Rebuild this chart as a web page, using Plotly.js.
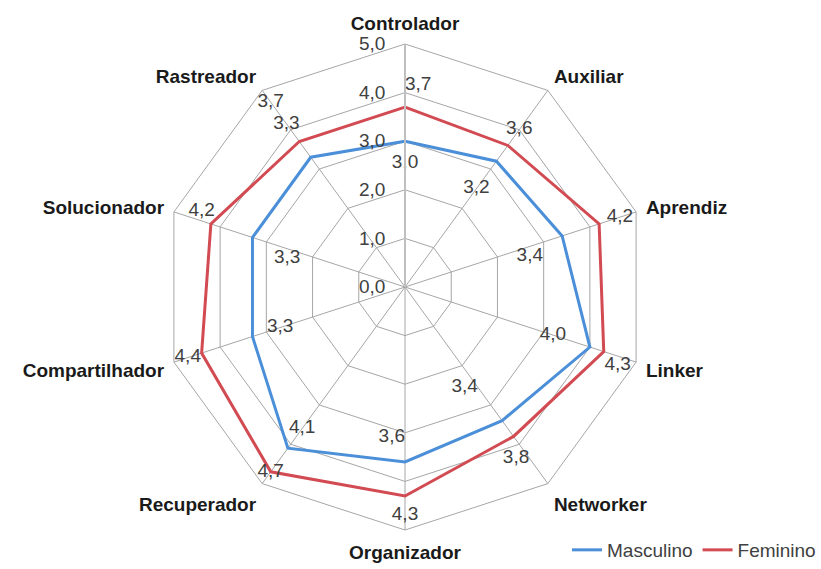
<!DOCTYPE html>
<html>
<head>
<meta charset="utf-8">
<script src="https://cdn.plot.ly/plotly-3.0.1.min.js"></script>
<style>html,body{margin:0;padding:0;background:#fff;}#chart{width:821px;height:569px;}</style>
</head>
<body>
<div id="chart"></div>
<script>
// Data
const categories = ["Controlador","Auxiliar","Aprendiz","Linker","Networker","Organizador","Recuperador","Compartilhador","Solucionador","Rastreador"];
const masculino = [3.0, 3.2, 3.4, 4.0, 3.4, 3.6, 4.1, 3.3, 3.3, 3.3];
const feminino  = [3.7, 3.6, 4.2, 4.3, 3.8, 4.3, 4.7, 4.4, 4.2, 3.7];
const seriesNames = ["Masculino", "Feminino"];
const radialTicks = [0, 1, 2, 3, 4, 5];

// Label placement (style only): radial offsets of data labels from their points
const offM = [-0.45, -0.7, -0.7, -0.8, -0.85, -0.5, -0.5, -0.6, -0.75, 0.85];
const offF = [0.45, 0.4, 0.45, 0.3, 0.55, 0.4, 0.0, 0.3, 0.2, 1.0];
const posM = ["middle center","middle center","bottom center","middle center","middle left","middle left","middle center","middle center","bottom center","middle center"];
const posF = ["middle right","middle center","middle center","bottom center","middle left","middle center","middle center","middle center","top center","middle center"];

const blue = "#4a8fd8", red = "#d24a52";
const FONT = "Liberation Sans, Arial, sans-serif";
const FS = 19;
const close = a => a.concat([a[0]]);
const fmt = v => v.toFixed(1).replace(".", ",");

const traces = [
  {type:"scatterpolar", mode:"lines", name:seriesNames[0], r:close(masculino), theta:close(categories),
   line:{color:blue, width:3}, hoverinfo:"skip"},
  {type:"scatterpolar", mode:"lines", name:seriesNames[1], r:close(feminino), theta:close(categories),
   line:{color:red, width:3}, hoverinfo:"skip"},
  {type:"scatterpolar", mode:"text", showlegend:false, r:masculino.map((v,i)=>v+offM[i]), theta:categories,
   text:masculino.map(fmt), textfont:{family:FONT, size:FS, color:"#404040"}, textposition:posM},
  {type:"scatterpolar", mode:"text", showlegend:false, r:feminino.map((v,i)=>v+offF[i]), theta:categories,
   text:feminino.map(fmt), textfont:{family:FONT, size:FS, color:"#404040"}, textposition:posF}
];

const layout = {
  width:821, height:569,
  paper_bgcolor:"#fff", plot_bgcolor:"#fff",
  margin:{l:162, r:173, t:44, b:39},
  separators:",.",
  font:{family:FONT, color:"#404040"},
  showlegend:true,
  legend:{orientation:"h", x:1.0, xanchor:"right", y:-0.005, yanchor:"bottom", yref:"container", xref:"container",
          font:{size:FS, color:"#404040"}, bgcolor:"rgba(0,0,0,0)", tracegroupgap:0},
  polar:{
    bgcolor:"#fff",
    gridshape:"linear",
    domain:{x:[0,1], y:[0,1]},
    angularaxis:{
      rotation:90, direction:"clockwise",
      categoryorder:"array", categoryarray:categories,
      showline:true, linecolor:"#a6a6a6", linewidth:1,
      gridcolor:"#a6a6a6", gridwidth:1,
      ticks:"outside", ticklen:6, tickcolor:"rgba(0,0,0,0)",
      tickfont:{family:FONT, size:FS, color:"#1a1a1a", weight:"bold"}
    },
    radialaxis:{
      range:[0,5], tickvals:radialTicks, ticktext:radialTicks.map(fmt),
      angle:90, tickangle:90, side:"counterclockwise",
      showline:true, linecolor:"#bfbfbf", linewidth:2,
      gridcolor:"#a6a6a6", gridwidth:1,
      ticks:"outside", ticklen:12, tickcolor:"rgba(0,0,0,0)",
      tickfont:{family:FONT, size:FS, color:"#404040"}
    }
  }
};

Plotly.newPlot("chart", traces, layout, {displayModeBar:false, staticPlot:true});
</script>
</body>
</html>
